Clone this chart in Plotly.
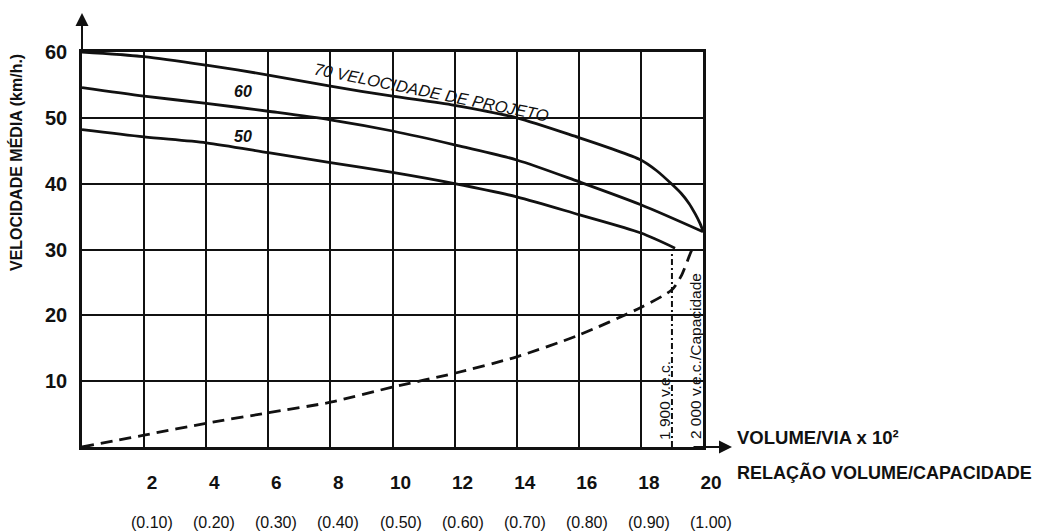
import plotly.graph_objects as go

# --- data ---
vol_70 = [0, 2, 4, 6, 8, 10, 12, 14, 16, 17, 18, 18.5, 19, 19.3, 19.55, 19.75, 19.9, 20]
vel_70 = [60, 59.3, 58.0, 56.5, 54.8, 53.3, 51.9, 50.0, 47.0, 45.4, 43.6, 42.0, 39.9, 38.5, 37.0, 35.4, 34.0, 32.8]

vol_60 = [0, 2, 4, 6, 8, 10, 12, 14, 16, 18, 20]
vel_60 = [54.6, 53.3, 52.2, 51.0, 49.7, 48.0, 45.9, 43.6, 40.3, 36.8, 32.7]

vol_50 = [0, 2, 4, 6, 8, 10, 12, 14, 16, 18, 19.1]
vel_50 = [48.2, 47.1, 46.2, 44.7, 43.2, 41.7, 40.0, 38.0, 35.3, 32.5, 30.2]

vol_dash = [0, 1, 2, 4, 6, 8, 10, 12, 14, 16, 18, 19, 19.3, 19.6, 19.7]
vel_dash = [0, 0.9, 1.8, 3.6, 5.2, 6.8, 9.1, 11.2, 13.7, 17.0, 21.2, 23.9, 26.0, 29.5, 30.5]

vec_1900_x = [19, 19]
vec_1900_y = [0, 30]

x_ticks = [2, 4, 6, 8, 10, 12, 14, 16, 18, 20]
x_ratio_labels = ["(0.10)", "(0.20)", "(0.30)", "(0.40)", "(0.50)",
                  "(0.60)", "(0.70)", "(0.80)", "(0.90)", "(1.00)"]
y_ticks = [10, 20, 30, 40, 50, 60]

INK = "#111111"
FONT = "Liberation Sans, Arial, sans-serif"

fig = go.Figure()
for xs, ys in [(vol_70, vel_70), (vol_60, vel_60), (vol_50, vel_50)]:
    fig.add_trace(go.Scatter(x=xs, y=ys, mode="lines",
                             line=dict(color=INK, width=2.8, shape="spline", smoothing=0.8),
                             showlegend=False, hoverinfo="skip"))
fig.add_trace(go.Scatter(x=vol_dash, y=vel_dash, mode="lines",
                         line=dict(color=INK, width=2.8, dash="12px,7px", shape="spline", smoothing=0.7),
                         showlegend=False, hoverinfo="skip"))
fig.add_trace(go.Scatter(x=vec_1900_x, y=vec_1900_y, mode="lines",
                         line=dict(color=INK, width=2, dash="6px,3px,2px,3px"),
                         showlegend=False, hoverinfo="skip"))

ann = []
# second row of x labels
for xv, lab in zip(x_ticks, x_ratio_labels):
    ann.append(dict(x=xv, xref="x", y=-0.19, yref="paper", yanchor="middle", xanchor="center",
                    text=lab, showarrow=False, xshift=8,
                    font=dict(family=FONT, size=16, color=INK)))
# axis arrows
ann.append(dict(x=0, xref="x", y=1.0987, yref="paper", ax=0, ay=40, text="", showarrow=True,
                arrowhead=2, arrowsize=1.3, arrowwidth=2, arrowcolor=INK))
ann.append(dict(x=1.0467, xref="paper", y=0, yref="y", ax=-40, ay=0, text="", showarrow=True,
                arrowhead=2, arrowsize=1.3, arrowwidth=2, arrowcolor=INK))
# axis captions
ann.append(dict(x=-0.1063, xref="paper", y=0.7215, yref="paper", xanchor="center", yanchor="middle",
                text="<b>VELOCIDADE MÉDIA (km/h.)</b>", textangle=-90, showarrow=False,
                font=dict(family=FONT, size=16, color=INK)))
ann.append(dict(x=1.0515, xref="paper", xanchor="left", y=0.0228, yref="paper", yanchor="middle",
                text="<b>VOLUME/VIA x 10²</b>", showarrow=False,
                font=dict(family=FONT, size=18.5, color=INK)))
ann.append(dict(x=1.0515, xref="paper", xanchor="left", y=-0.0633, yref="paper", yanchor="middle",
                text="<b>RELAÇÃO VOLUME/CAPACIDADE</b>", showarrow=False,
                font=dict(family=FONT, size=18, color=INK)))
# curve labels
ann.append(dict(x=11.24, y=53.95, text="<i>70 VELOCIDADE DE PROJETO</i>", textangle=11.5,
                showarrow=False, font=dict(family=FONT, size=16.5, color=INK)))
ann.append(dict(x=5.2, y=53.95, text="<b><i>60</i></b>", showarrow=False,
                font=dict(family=FONT, size=16, color=INK)))
ann.append(dict(x=5.2, y=47.1, text="<b><i>50</i></b>", showarrow=False,
                font=dict(family=FONT, size=16, color=INK)))
ann.append(dict(x=18.78, y=7.0, text="1 900 v.e.c.", textangle=-90, showarrow=False,
                font=dict(family=FONT, size=15.5, color=INK)))
ann.append(dict(x=19.74, y=13.8, text="2 000 v.e.c./Capacidade", textangle=-90, showarrow=False,
                font=dict(family=FONT, size=15.5, color=INK)))

fig.update_layout(
    width=1041, height=531,
    margin=dict(l=82, r=338, t=52, b=84),
    paper_bgcolor="white", plot_bgcolor="white",
    annotations=ann,
    xaxis=dict(range=[0, 20], tickvals=x_ticks, ticktext=[f"<b>{v}</b>" for v in x_ticks],
               showgrid=True, gridcolor=INK, gridwidth=2,
               showline=True, linecolor=INK, linewidth=2.5, mirror=True,
               zeroline=False, ticks="", ticklabelstandoff=16, ticklabelshift=8,
               tickfont=dict(family=FONT, size=19, color=INK), fixedrange=True),
    yaxis=dict(range=[0, 60], tickvals=y_ticks, ticktext=[f"<b>{v}</b>" for v in y_ticks],
               showgrid=True, gridcolor=INK, gridwidth=2,
               showline=True, linecolor=INK, linewidth=2.5, mirror=True,
               zeroline=False, ticks="", ticklabelstandoff=8,
               tickfont=dict(family=FONT, size=20, color=INK), fixedrange=True),
)

fig.write_html("out.html", config={"displayModeBar": False},
               post_script="document.body.style.margin='0';")
